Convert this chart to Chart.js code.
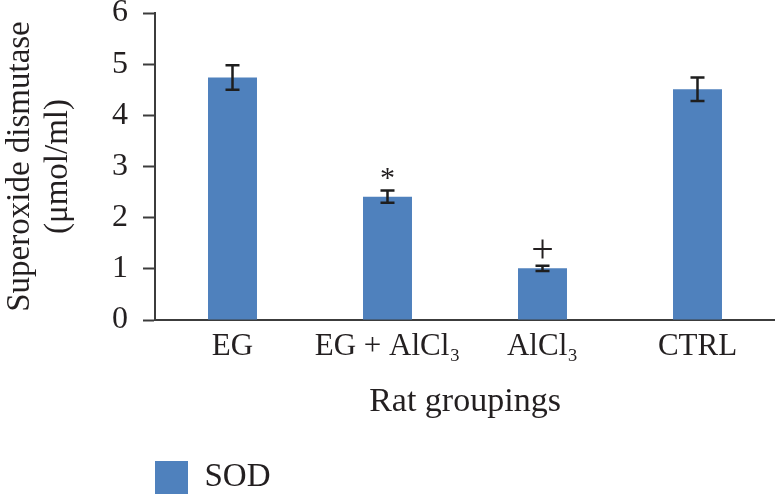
<!DOCTYPE html>
<html>
<head>
<meta charset="utf-8">
<script src="https://cdn.jsdelivr.net/npm/chart.js@4/dist/chart.umd.min.js"></script>
<style>
  html, body { margin: 0; padding: 0; background: #fff; }
  #wrap { width: 775px; height: 496px; position: relative; }
</style>
</head>
<body>
<div id="wrap"><canvas id="myChart"></canvas></div>
<script>
const groups = ["EG", "EG + AlCl\u2083", "AlCl\u2083", "CTRL"];
const sodValues = [4.74, 2.41, 1.01, 4.51];
const sodErrors = [0.24, 0.12, 0.05, 0.23];
const sigMarks = ["", "*", "+", ""];
const yTicks = [0, 1, 2, 3, 4, 5, 6];

document.addEventListener("DOMContentLoaded", function () {
  const ctx = document.getElementById("myChart").getContext("2d");
  const serif = "'Liberation Serif', 'Times New Roman', serif";
  const ink = "#231f20";
  const axisColor = "#3c3c3c";

  // error bars + significance marks on top of each bar
  const errorBars = {
    id: "errorBars",
    afterDatasetsDraw(chart) {
      const c = chart.ctx;
      const y = chart.scales.y;
      const meta = chart.getDatasetMeta(0);
      c.save();
      c.strokeStyle = "#1e1e1e";
      c.lineWidth = 2.5;
      meta.data.forEach(function (bar, i) {
        const top = y.getPixelForValue(sodValues[i] + sodErrors[i]);
        const bot = y.getPixelForValue(sodValues[i] - sodErrors[i]);
        const x = bar.x;
        c.beginPath();
        c.moveTo(x, top); c.lineTo(x, bot);
        c.moveTo(x - 7, top); c.lineTo(x + 7, top);
        c.moveTo(x - 7, bot); c.lineTo(x + 7, bot);
        c.stroke();
        if (sigMarks[i]) {
          c.fillStyle = ink;
          c.textAlign = "center";
          c.textBaseline = "middle";
          if (sigMarks[i] === "*") {
            c.font = "30px " + serif;
            c.fillText("*", x, top - 11);
          } else {
            c.font = "40px " + serif;
            c.fillText("+", x, top - 14);
          }
        }
      });
      c.restore();
    }
  };

  // move the legend so it lines up under the plot
  const legendShift = {
    id: "legendShift",
    afterLayout(chart) {
      chart.legend.left = 153;
      chart.legend.top += 8;
      chart.legend.bottom += 8;
    }
  };

  const myChart = new Chart(ctx, {
    type: "bar",
    data: {
      labels: groups,
      datasets: [
        {
          label: "SOD",
          data: sodValues,
          backgroundColor: "#4f81bd",
          borderWidth: 0,
          barPercentage: 0.316,
          categoryPercentage: 1,
        },
      ],
    },
    options: {
      responsive: true,
      maintainAspectRatio: false,
      animation: false,
      layout: { padding: { top: 13, right: 0, left: 0, bottom: 0 } },
      plugins: {
        tooltip: { enabled: false },
        legend: {
          position: "bottom",
          align: "start",
          labels: {
            boxWidth: 33,
            boxHeight: 33,
            padding: 2,
            color: ink,
            font: { family: serif, size: 33 },
          },
        },
      },
      scales: {
        x: {
          grid: { display: false, drawTicks: false },
          border: { display: true, color: axisColor, width: 2 },
          ticks: {
            color: ink,
            padding: 8,
            maxRotation: 0,
            autoSkip: false,
            font: { family: serif, size: 31 },
          },
          title: {
            display: true,
            text: "Rat groupings",
            color: ink,
            font: { family: serif, size: 34 },
            padding: { top: 0, bottom: 29 },
          },
          afterFit: function (scale) {
            scale.height = 131;
          },
        },
        y: {
          min: 0,
          max: 6,
          afterBuildTicks: function (scale) {
            scale.ticks = yTicks.map(function (v) { return { value: v }; });
          },
          grid: {
            display: true,
            drawOnChartArea: false,
            drawTicks: true,
            tickLength: 12,
            tickWidth: 2,
            tickColor: axisColor,
          },
          border: { display: true, color: axisColor, width: 2 },
          ticks: {
            color: ink,
            padding: 15,
            font: { family: serif, size: 32 },
          },
          title: {
            display: true,
            text: ["Superoxide dismutase", "(\u03bcmol/ml)"],
            color: ink,
            font: { family: serif, size: 33, lineHeight: 1.15 },
            padding: { top: 1, bottom: 0 },
          },
          afterFit: function (scale) {
            scale.width = 155;
            scale.paddingTop = 0;
            scale.paddingBottom = 0;
          },
        },
      },
    },
    plugins: [errorBars, legendShift],
  });
});
</script>
</body>
</html>
